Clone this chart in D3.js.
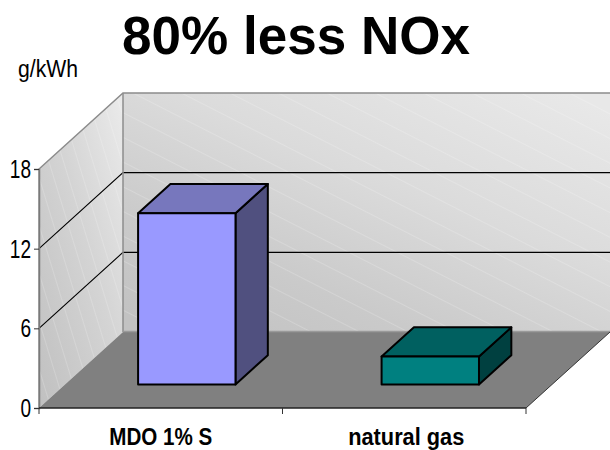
<!DOCTYPE html>
<html>
<head>
<meta charset="utf-8">
<script src="https://cdn.jsdelivr.net/npm/d3@7"></script>
<style>
  html, body { margin: 0; padding: 0; background: #fff; }
  svg { display: block; }
  text { font-family: "Liberation Sans", Arial, sans-serif; fill: #000; }
</style>
</head>
<body>
<div id="chart"></div>
<script>
const categories = ["MDO 1% S", "natural gas"]
const values = [12.9, 2.1]
const barFills = ["#9999ff", "#008080"]
const barTops = ["#7777bd", "#006060"]
const barSides = ["#50507f", "#004040"]
const yTicks = [0, 6, 12, 18]
const titleText = "80% less NOx"
const unitText = "g/kWh"

const width = 610
const height = 450
const left = 39, right = 526, floorY = 408, topY = 169
const depthX = 84, depthY = -76
const barDepth = [0.31, 0.695]

const svg = d3.select("#chart").append("svg")
    .attr("width", width)
    .attr("height", height)

const xScale = d3.scaleBand().domain(categories).range([left, right]).paddingInner(0).paddingOuter(0)
const yScale = d3.scaleLinear().domain([0, 18]).range([floorY, topY])

// project a point in (x px, value, depth 0..1) to the screen
const px = (x, d) => x + d * depthX
const py = (v, d) => yScale(v) + d * depthY
const poly = pts => pts.map(p => `${p[0]},${p[1]}`).join(" ")

const defs = svg.append("defs")

const addGradient = (id, x1, y1, x2, y2, stops) => {
    const g = defs.append("linearGradient").attr("id", id)
        .attr("gradientUnits", "objectBoundingBox")
        .attr("x1", x1).attr("y1", y1).attr("x2", x2).attr("y2", y2)
    stops.forEach(s => g.append("stop").attr("offset", s[0]).attr("stop-color", s[1]))
}
addGradient("backWall", 0.1, 1, 0.9, 0, [[0, "#c2c2c2"], [0.25, "#cacaca"], [0.6, "#dbdbdb"], [1, "#e8e8e8"]])
addGradient("sideWall", 0, 1, 1, 0, [[0, "#c0c0c0"], [0.55, "#d4d4d4"], [1, "#ebebeb"]])

const addHatch = (id, size, angle) => {
    const p = defs.append("pattern").attr("id", id)
        .attr("patternUnits", "userSpaceOnUse")
        .attr("width", size).attr("height", size)
        .attr("patternTransform", `rotate(${angle})`)
    p.append("line").attr("x1", 0).attr("x2", size).attr("y1", 0).attr("y2", 0)
        .attr("stroke", "#fff").attr("stroke-opacity", 0.3).attr("stroke-width", 1.2)
}
addHatch("backHatch", 22, 27)
addHatch("sideHatch", 14, 73)

// back wall and side wall
const backPts = [[px(left, 1), py(0, 1)], [px(right, 1), py(0, 1)], [px(right, 1), py(18, 1)], [px(left, 1), py(18, 1)]]
const sidePts = [[px(left, 0), py(0, 0)], [px(left, 1), py(0, 1)], [px(left, 1), py(18, 1)], [px(left, 0), py(18, 0)]]

svg.append("polygon").attr("points", poly(backPts)).attr("fill", "url(#backWall)")
svg.append("polygon").attr("points", poly(backPts)).attr("fill", "url(#backHatch)")
svg.append("polygon").attr("points", poly(sidePts)).attr("fill", "url(#sideWall)")
svg.append("polygon").attr("points", poly(sidePts)).attr("fill", "url(#sideHatch)")

// gridlines
yTicks.filter(t => t > 0 && t < 18).forEach(t => {
    svg.append("polyline")
        .attr("points", poly([[px(left, 0), py(t, 0)], [px(left, 1), py(t, 1)], [px(right, 1), py(t, 1)]]))
        .attr("fill", "none").attr("stroke", "#000").attr("stroke-width", 1.1)
})

// wall outline
svg.append("polyline")
    .attr("points", poly([[px(left, 0), py(0, 0)], [px(left, 0), py(18, 0)], [px(left, 1), py(18, 1)], [px(right, 1), py(18, 1)]]))
    .attr("fill", "none").attr("stroke", "#8c8c8c").attr("stroke-width", 1.5)
svg.append("line")
    .attr("x1", px(left, 1)).attr("x2", px(left, 1)).attr("y1", py(18, 1)).attr("y2", py(0, 1))
    .attr("stroke", "#8c8c8c").attr("stroke-width", 1.5)

// floor
svg.append("polygon")
    .attr("points", poly([[px(left, 0), py(0, 0)], [px(right, 0), py(0, 0)], [px(right, 1), py(0, 1)], [px(left, 1), py(0, 1)]]))
    .attr("fill", "#808080")
svg.append("line")
    .attr("x1", px(left, 1)).attr("x2", px(right, 1)).attr("y1", py(0, 1) - 0.5).attr("y2", py(0, 1) - 0.5)
    .attr("stroke", "#9a9a9a").attr("stroke-width", 1.5)
svg.append("line")
    .attr("x1", px(right, 0)).attr("x2", px(right, 1)).attr("y1", py(0, 0)).attr("y2", py(0, 1))
    .attr("stroke", "#333").attr("stroke-width", 1)

// bars
const barWidth = xScale.bandwidth() * 0.4
categories.forEach((c, i) => {
    const x0 = xScale(c) + (xScale.bandwidth() - barWidth) / 2
    const x1 = x0 + barWidth
    const v = values[i]
    const g = svg.append("g").attr("stroke", "#000").attr("stroke-width", 2).attr("stroke-linejoin", "round")
    const [d0, d1] = barDepth
    g.append("polygon")
        .attr("points", poly([[px(x1, d0), py(0, d0)], [px(x1, d1), py(0, d1)], [px(x1, d1), py(v, d1)], [px(x1, d0), py(v, d0)]]))
        .attr("fill", barSides[i])
    g.append("polygon")
        .attr("points", poly([[px(x0, d0), py(v, d0)], [px(x1, d0), py(v, d0)], [px(x1, d1), py(v, d1)], [px(x0, d1), py(v, d1)]]))
        .attr("fill", barTops[i])
    g.append("rect")
        .attr("x", px(x0, d0)).attr("y", py(v, d0))
        .attr("width", barWidth).attr("height", py(0, d0) - py(v, d0))
        .attr("fill", barFills[i])
})

// axes
const yAxis = svg.append("g")
    .attr("transform", `translate(${left},0)`)
    .call(d3.axisLeft(yScale).tickValues(yTicks).tickSize(5).tickPadding(3).tickFormat(d3.format("d")))
yAxis.select(".domain").attr("stroke", "#7a7a7a").attr("stroke-width", 1.5)
yAxis.selectAll("line").attr("stroke", "#333")
yAxis.selectAll("text").attr("font-size", 25).attr("textLength", function () {
    return this.textContent.length * 10.6
}).attr("lengthAdjust", "spacingAndGlyphs").attr("dy", "0.34em")

const xAxis = svg.append("g").attr("transform", `translate(0,${floorY})`)
xAxis.append("line").attr("x1", left).attr("x2", right).attr("stroke", "#222").attr("stroke-width", 1.5)
d3.range(categories.length + 1).forEach(i => {
    const x = left + i * xScale.step()
    xAxis.append("line").attr("x1", x).attr("x2", x).attr("y1", 0).attr("y2", 6).attr("stroke", "#333")
})
const labelWidths = [103, 116]
categories.forEach((c, i) => {
    xAxis.append("text")
        .attr("x", xScale(c) + xScale.bandwidth() / 2 - (i === 0 ? 0 : -2))
        .attr("y", 37)
        .attr("text-anchor", "middle")
        .attr("font-size", 23)
        .attr("font-weight", "bold")
        .attr("textLength", labelWidths[i])
        .attr("lengthAdjust", "spacingAndGlyphs")
        .text(c)
})

// title and unit
svg.append("text").attr("x", 296).attr("y", 54).attr("text-anchor", "middle")
    .attr("font-size", 54).attr("font-weight", "bold")
    .attr("textLength", 348).attr("lengthAdjust", "spacingAndGlyphs").text(titleText)
svg.append("text").attr("x", 18).attr("y", 77)
    .attr("font-size", 23).attr("textLength", 60).attr("lengthAdjust", "spacingAndGlyphs").text(unitText)
</script>
</body>
</html>
